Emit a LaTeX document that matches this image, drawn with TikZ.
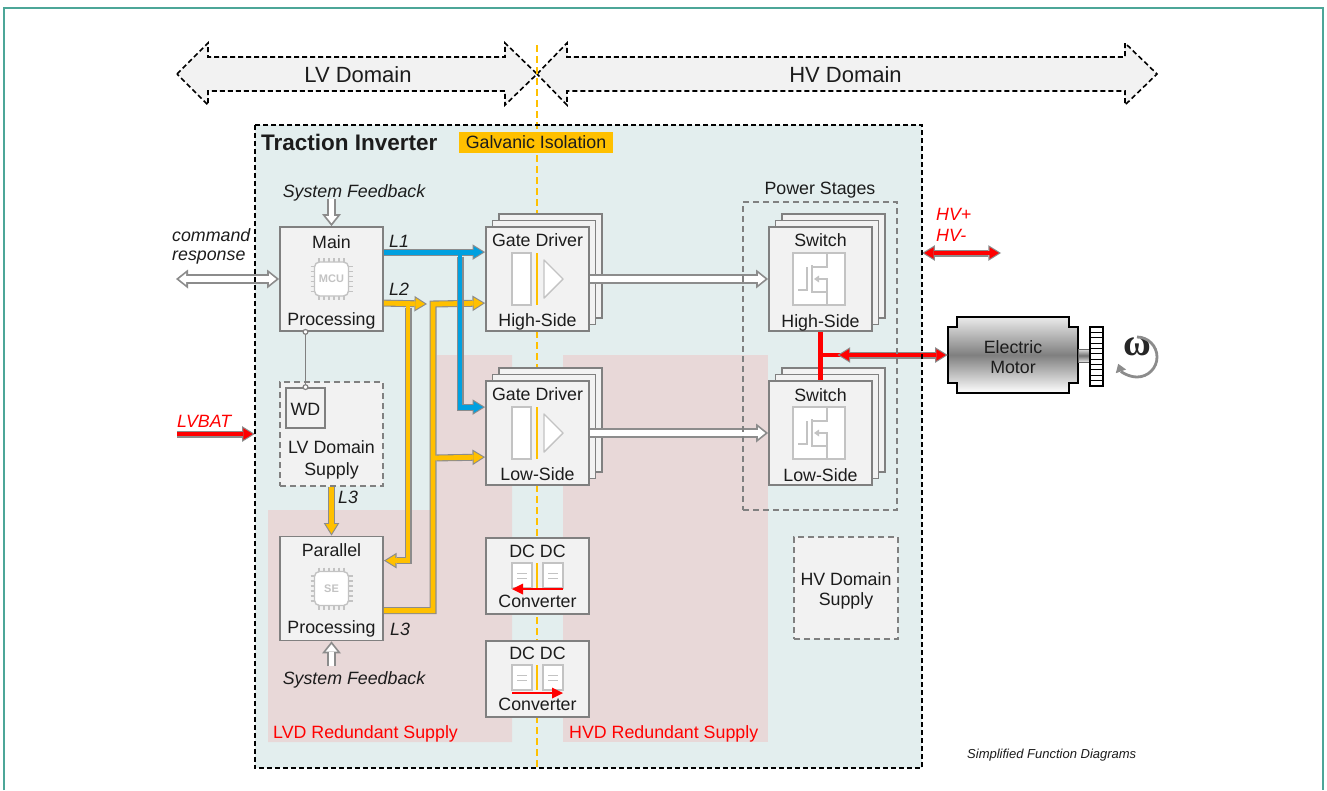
\documentclass[tikz,border=0pt]{standalone}
\usepackage{fontspec}
\setmainfont{Liberation Sans}
\newfontfamily\omegafont{Liberation Serif}
\usetikzlibrary{arrows.meta,shadows,calc}

\definecolor{frameteal}{RGB}{76,166,152}
\definecolor{tibg}{RGB}{227,238,238}
\definecolor{redund}{RGB}{232,216,216}
\definecolor{boxedge}{RGB}{128,128,128}
\definecolor{boxfill}{RGB}{242,242,242}
\definecolor{icongray}{RGB}{195,195,195}
\definecolor{txt}{RGB}{28,28,28}
\definecolor{isoorange}{RGB}{255,192,0}
\definecolor{busblue}{RGB}{0,160,224}
\definecolor{pipeedge}{RGB}{140,140,140}
\definecolor{domfill}{RGB}{242,242,242}

\tikzset{
  lbl/.style={inner sep=0pt, text=txt, font=\fontsize{17.8}{21}\selectfont},
  ilbl/.style={lbl, font=\fontsize{17.8}{21}\selectfont\itshape},
  rlbl/.style={ilbl, text=red},
  box/.style={draw=boxedge, fill=boxfill, line width=1.8pt, rectangle, inner sep=0pt,
    minimum width=103pt, minimum height=104pt},
  dashbox/.style={box, line width=1.6pt, dash pattern=on 6pt off 4pt},
  stackbox/.style={box,
    general shadow={shadow scale=1, shadow xshift=13pt, shadow yshift=13pt,
      draw=boxedge, fill=boxfill, line width=1.8pt},
    general shadow={shadow scale=1, shadow xshift=6.5pt, shadow yshift=6.5pt,
      draw=boxedge, fill=boxfill, line width=1.8pt}},
  domarrow/.style={fill=domfill, draw=black, line width=1.6pt, dash pattern=on 5pt off 3pt},
  pipe/.style={line width=4.8pt, draw=#1,
    -{Triangle[length=9.4pt,width=11.6pt,line width=0pt]}, shorten >=2.1pt,
    preaction={draw=pipeedge, line width=7pt,
      -{Triangle[length=12.6pt,width=15.6pt,line width=0pt]}, shorten >=0pt}},
  pipebranch/.style={line width=4.8pt, draw=#1,
    -{Triangle[length=9.4pt,width=11.6pt,line width=0pt]}, shorten >=2.1pt,
    preaction={draw=pipeedge, line width=7pt,
      -{Triangle[length=12.6pt,width=15.6pt,line width=0pt]}, shorten >=0pt, shorten <=3.5pt}},
  pipetwo/.style={line width=4.8pt, draw=#1,
    {Triangle[length=9.4pt,width=11.6pt,line width=0pt]}-{Triangle[length=9.4pt,width=11.6pt,line width=0pt]},
    shorten >=2.1pt, shorten <=2.1pt,
    preaction={draw=pipeedge, line width=7pt,
      {Triangle[length=12.6pt,width=15.6pt,line width=0pt]}-{Triangle[length=12.6pt,width=15.6pt,line width=0pt]},
      shorten >=0pt, shorten <=0pt}},
  hollow/.style={line width=5.6pt, draw=white,
    -{Triangle[length=7.2pt,width=11.6pt,line width=0pt]}, shorten >=2.9pt,
    preaction={draw=pipeedge, line width=9.4pt,
      -{Triangle[length=12pt,width=19pt,line width=0pt]}, shorten >=0pt}},
  hollowtwo/.style={line width=5.6pt, draw=white,
    {Triangle[length=7.2pt,width=11.6pt,line width=0pt]}-{Triangle[length=7.2pt,width=11.6pt,line width=0pt]},
    shorten >=2.9pt, shorten <=2.9pt,
    preaction={draw=pipeedge, line width=9.4pt,
      {Triangle[length=12pt,width=19pt,line width=0pt]}-{Triangle[length=12pt,width=19pt,line width=0pt]},
      shorten >=0pt, shorten <=0pt}},
  dcarrow/.style={draw=red, line width=2.6pt, -{Triangle[length=11pt,width=11pt,line width=0pt]}},
  tapline/.style={draw=boxedge, line width=1.5pt,
    {Circle[length=6pt,fill=white,line width=1.2pt]}-{Circle[length=6pt,fill=white,line width=1.2pt]},
    shorten <=-3pt, shorten >=-3pt},
  % controller chip symbol
  chip/.pic={
    \foreach \k in {-12.5,-7.5,...,12.5} {
      \draw[icongray, line width=1.4pt] (\k,-21) -- (\k,-16) (\k,16) -- (\k,21)
        (-21,\k) -- (-16,\k) (16,\k) -- (21,\k);
    }
    \draw[icongray, fill=white, line width=1.4pt, rounded corners=5pt] (-17,-17) rectangle (17,17);
    \node[inner sep=0pt, text=icongray, font=\bfseries\fontsize{11}{12}\selectfont] (-lbl) at (0,0) {\tikzpictext};
  },
  % gate driver symbol: isolator, barrier, driver
  gdicon/.pic={
    \draw[icongray, fill=white, line width=1.4pt] (-25.5,-26) rectangle (-6.5,26);
    \draw[isoorange, line width=2pt] (-0.5,-26) -- (-0.5,26);
    \draw[icongray, fill=white, line width=1.4pt, line join=round] (6.5,-19) -- (25.5,0) -- (6.5,19) -- cycle;
  },
  % power transistor symbol
  fet/.pic={
    \draw[icongray, fill=white, line width=1.4pt] (-26,-26) rectangle (26,26);
    \begin{scope}[icongray, line width=1.4pt]
      \draw (-21,11) -- (-12,11) -- (-12,-12);
      \draw (-7,-14) -- (-7,14);
      \draw (8,-26) -- (8,-12) -- (-7,-12);
      \draw (-7,13) -- (8,13) -- (8,26);
      \draw (-2,0) -- (8,0) -- (8,13);
      \fill (-5,0) -- (0,-3.5) -- (0,3.5) -- cycle;
    \end{scope}
  },
  % converter symbol: two stages across the barrier
  docpair/.pic={
    \foreach \dx in {-15.5,15.5} {
      \draw[icongray, fill=white, line width=1.4pt] (\dx-10,-12.5) rectangle (\dx+10,12.5);
      \draw[icongray, line width=0.9pt] (\dx-5,-2.5) -- (\dx+5,-2.5) (\dx-5,2.5) -- (\dx+5,2.5);
    }
    \draw[isoorange, line width=2pt] (-0.5,-12.5) -- (-0.5,12.5);
  }
}

\begin{document}
\begin{tikzpicture}[x=1pt, y=-1pt]
\useasboundingbox (0,0) rectangle (1327,790);
\fill[white] (0,0) rectangle (1327,790);
\draw[frameteal, line width=2pt] (4,790) -- (4,8) -- (1323,8) -- (1323,790);

% inverter area and redundant supply zones
\node[fill=tibg, inner sep=0pt, minimum width=667pt, minimum height=643pt] (ti) at (588.5,446.5) {};
\fill[redund] (437,355) -- (512,355) -- (512,742) -- (268,742) -- (268,510) -- (437,510) -- cycle;
\fill[redund] (563,355) rectangle (768,742);

% voltage domains
\draw[domarrow] (177,74) -- (208,43) -- (208,57) -- (505,57) -- (505,43) -- (537,74)
  -- (505,105) -- (505,91) -- (208,91) -- (208,105) -- cycle;
\draw[domarrow] (537,74) -- (567,43) -- (567,57) -- (1125,57) -- (1125,43) -- (1157,74)
  -- (1125,105) -- (1125,91) -- (567,91) -- (567,105) -- cycle;
\node[lbl, font=\fontsize{22}{26}\selectfont, anchor=base] (lvdom) at (358,82) {LV Domain};
\node[lbl, font=\fontsize{22}{26}\selectfont, anchor=base] (hvdom) at (845.5,82) {HV Domain};

% isolation barrier
\draw[isoorange, line width=1.6pt, dash pattern=on 7pt off 4pt] (537,45) -- (537,770);

\node[lbl, font=\bfseries\fontsize{22.5}{26}\selectfont, anchor=base west] (tititle) at (261,150) {Traction Inverter};
\node[fill=isoorange, inner sep=0pt, minimum width=154pt, minimum height=21pt, text=txt,
  font=\fontsize{17.8}{21}\selectfont] (galv) at (536,142.5) {Galvanic Isolation};

% blocks
\node[box] (mp) at (331.5,279) {};
\node[box] (pp) at (331.5,588.5) {};
\node[dashbox] (lvs) at (331.5,434) {};
\node[box, minimum width=39pt, minimum height=40pt] (wd) at (305.5,408) {};
\node[stackbox] (gdh) at (537.5,279) {};
\node[stackbox] (gdl) at (537.5,433) {};
\node[stackbox] (swh) at (820.5,279) {};
\node[stackbox] (swl) at (820.5,433) {};
\node[box, minimum height=76pt] (dc1) at (537.5,576) {};
\node[box, minimum height=76pt] (dc2) at (537.5,679) {};
\node[dashbox, minimum width=104pt, minimum height=102pt] (hvs) at (846,588) {};

% block symbols
\pic[pic text=MCU] (mcu) at (331.5,279) {chip};
\pic[pic text=SE] (se) at (331.5,588.5) {chip};
\pic (gdhi) at (gdh.center) {gdicon};
\pic (gdli) at (gdl.center) {gdicon};
\pic (swhi) at ($(swh.center)+(-1.5,0)$) {fet};
\pic (swli) at ($(swl.center)+(-1.5,0)$) {fet};
\pic (dc1i) at ($(dc1.center)+(0,-0.5)$) {docpair};
\pic (dc2i) at ($(dc2.center)+(0,-1.5)$) {docpair};
\draw[dcarrow] ($(dc1.center)+(25.5,13)$) -- ($(dc1.center)+(-25.5,13)$);
\draw[dcarrow] ($(dc2.center)+(-25.5,14)$) -- ($(dc2.center)+(25.5,14)$);

% block captions
\node[lbl, anchor=base] (mpa) at (331.5,248) {Main};
\node[lbl, anchor=base] (mpb) at (331.5,325) {Processing};
\node[lbl, anchor=base] (ppa) at (331.5,556) {Parallel};
\node[lbl, anchor=base] (ppb) at (331.5,633) {Processing};
\node[lbl, anchor=base] (wdt) at (305.5,415) {WD};
\node[lbl, anchor=base] (lvsa) at (331.5,453) {LV Domain};
\node[lbl, anchor=base] (lvsb) at (331.5,475) {Supply};
\node[lbl, anchor=base] (gdha) at (537.5,246) {Gate Driver};
\node[lbl, anchor=base] (gdhb) at (537.5,326) {High-Side};
\node[lbl, anchor=base] (gdla) at (537.5,400) {Gate Driver};
\node[lbl, anchor=base] (gdlb) at (537.5,480) {Low-Side};
\node[lbl, anchor=base] (swha) at (820.5,246) {Switch};
\node[lbl, anchor=base] (swhb) at (820.5,327) {High-Side};
\node[lbl, anchor=base] (swla) at (820.5,401) {Switch};
\node[lbl, anchor=base] (swlb) at (820.5,481) {Low-Side};
\node[lbl, anchor=base] (dc1a) at (537.5,557) {DC DC};
\node[lbl, anchor=base] (dc1b) at (537.5,607) {Converter};
\node[lbl, anchor=base] (dc2a) at (537.5,659) {DC DC};
\node[lbl, anchor=base] (dc2b) at (537.5,710) {Converter};
\node[lbl, anchor=base] (hvsa) at (846,585) {HV Domain};
\node[lbl, anchor=base] (hvsb) at (846,605) {Supply};
\node[lbl, anchor=base] (pslbl) at (820,194) {Power Stages};

% electric motor with shaft and gear
\node[inner sep=0pt, minimum width=130pt, minimum height=76pt] (motor) at (1013,355) {};
\shadedraw[draw=black, line width=1.8pt, top color=black!8, bottom color=white, middle color=black!50]
  (948,327) -- (957,327) -- (957,317) -- (1069,317) -- (1069,327) -- (1078,327) -- (1078,383)
  -- (1069,383) -- (1069,393) -- (957,393) -- (957,383) -- (948,383) -- cycle;
\shadedraw[draw=black!60, line width=0.8pt, top color=black!12, bottom color=black!10, middle color=black!55]
  (1078,349) rectangle (1090,362);
\draw[fill=white, line width=1.5pt] (1090,327) rectangle (1103,386);
\foreach \i in {1,...,10} {
  \draw[line width=1.1pt] (1090,327+\i*5.36) -- (1103,327+\i*5.36);
}
\node[lbl, anchor=base] (mota) at (1013,353) {Electric};
\node[lbl, anchor=base] (motb) at (1013,373) {Motor};
\node[inner sep=0pt, text=black!85, font=\omegafont\bfseries\fontsize{38}{38}\selectfont] (omega) at (1137,347) {ω};
\draw[black!45, line width=2.8pt, -{Triangle[length=8pt,width=11pt,line width=0pt]}]
  (1137,337) arc[start angle=-90, end angle=160, radius=20];

% redundant buses to the gate drivers
\coordinate (l2end) at (427,304);
\coordinate (oj1) at (408,304);
\coordinate (oj2) at (433,304);
\coordinate (oj3) at (433,458);
\coordinate (bj) at (460,253);
\draw[pipe=isoorange] ($(mp.north east)+(0,77)$) -- (l2end);
\draw[pipebranch=isoorange] (oj1) |- ($(pp.north east)+(0,25)$);
\draw[pipe=isoorange] ($(pp.north east)+(0,75)$) -| (oj2) -- ($(gdh.north west)+(0,77)$);
\draw[pipebranch=isoorange] (oj3) -- ($(gdl.north west)+(0,77)$);
\draw[pipe=isoorange] (lvs.south) -- (pp.north);
\draw[pipe=busblue] ($(mp.north east)+(0,26)$) -- ($(gdh.north west)+(0,26)$);
\draw[pipebranch=busblue] (bj) |- ($(gdl.north west)+(0,27)$);

% signal arrows
\coordinate (sftop) at (331.5,199);
\coordinate (sfbot) at (331.5,666);
\coordinate (cmdend) at (176,279);
\draw[hollow] (sftop) -- (mp.north);
\draw[hollow] (sfbot) -- (pp.south);
\draw[hollowtwo] (cmdend) -- (mp.west);
\draw[hollow] (gdh.east) -- (swh.west);
\draw[hollow] (gdl.east) -- (swl.west);
\draw[tapline] (mp.south -| wd.north) -- (wd.north);

% power connections
\coordinate (lvbat) at (177,434);
\draw[pipe=red] (lvbat) -- (lvbat -| ti.west);
\coordinate (hvend) at (1001,253);
\draw[pipetwo=red] (hvend -| ti.east) -- (hvend);
\coordinate (mj) at (swh.south |- motor.west);
\draw[red, line width=5.5pt] (swh.south) -- (swl.north);
\draw[red, line width=4.8pt] (mj) -- ++(24,0);
\draw[pipetwo=red] ($(mj)+(17,0)$) -- (motor.west);

% group outlines
\node[draw=boxedge, line width=1.6pt, dash pattern=on 6pt off 4pt, inner sep=0pt,
  minimum width=154pt, minimum height=308pt] (ps) at (820,356) {};
\draw[black, line width=1.8pt, dash pattern=on 5pt off 3pt] (ti.north west) rectangle (ti.south east);

% annotations
\node[ilbl, anchor=base] (sfa) at (354,197) {System Feedback};
\node[ilbl, anchor=base] (sfb) at (354,684) {System Feedback};
\node[ilbl, anchor=base west] (cmdt) at (172,241) {command};
\node[ilbl, anchor=base west] (rspt) at (172,260) {response};
\node[rlbl, anchor=base west] (lvbatt) at (177,427) {LVBAT};
\node[rlbl, anchor=base west] (hvp) at (936,220) {HV+};
\node[rlbl, anchor=base west] (hvm) at (936,241) {HV-};
\node[ilbl, anchor=base west] (l1t) at (389,247) {L1};
\node[ilbl, anchor=base west] (l2t) at (389,295) {L2};
\node[ilbl, anchor=base west] (l3a) at (338,503) {L3};
\node[ilbl, anchor=base west] (l3b) at (390,635) {L3};
\node[lbl, text=red, anchor=base west] (lvdr) at (273,738) {LVD Redundant Supply};
\node[lbl, text=red, anchor=base west] (hvdr) at (569,738) {HVD Redundant Supply};
\node[lbl, font=\itshape\fontsize{13}{15}\selectfont, anchor=base west] (sfd) at (967,758) {Simplified Function Diagrams};
\end{tikzpicture}
\end{document}
